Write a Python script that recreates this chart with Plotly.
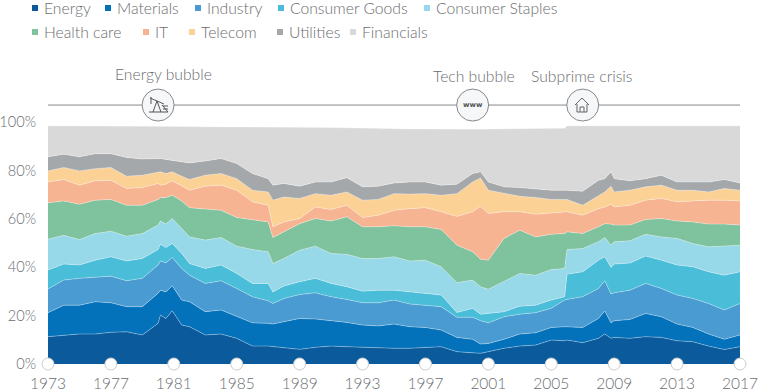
import plotly.graph_objects as go

W, H = 762, 392
L, R, T, B = 48, 740, 80, 364
PCT_PX = 2.42

years = [1973,1974,1975,1976,1977,1978,1979,1980,1980.15,1980.5,1980.9,1981.5,1982,1983,1984,1985,1986,1987,1987.3,1988,1989,1990,1991,1992,1993,1994,
         1995,1996,1997,1998,1999,2000,2000.5,2001,2002,2003,2004,2005,2005.85,2006,2007,2008,2008.4,2008.8,2009,2010,2011,2012,2013,2014,2015,2016,2017]

# Upper edge of each sector's band (cumulative % of the index)
energy_top = [11.3,12.0,12.4,12.4,13.1,13.3,12.0,16.8,20.2,18.8,22.0,16.1,15.4,12.0,12.4,10.6,7.4,7.4,7.2,6.5,6.05,6.9,7.4,7.15,6.9,6.5,
              6.5,6.5,6.9,7.15,5.1,4.8,4.4,5.1,6.5,7.4,7.8,9.9,9.6,9.9,8.8,10.6,12.4,10.6,11.0,10.6,11.3,11.0,9.6,9.2,7.4,6.0,7.15]
materials_top = [21.2,24.3,24.3,25.7,25.3,23.7,23.7,29.2,30.5,29.8,32.3,26.4,25.7,21.6,22.3,19.5,17.0,16.8,16.5,17.5,18.8,18.6,17.9,17.2,16.1,15.7,
                 16.5,15.4,15.1,14.0,11.0,10.2,8.25,8.5,10.2,12.4,12.9,15.1,15.4,15.4,15.1,18.8,21.9,17.0,17.9,18.4,20.9,19.5,16.5,15.1,12.4,10.2,12.0]
industry_top = [31.0,34.7,35.4,36.0,36.3,34.4,35.4,40.9,42.6,41.8,44.0,39.5,36.7,33.3,34.4,31.2,27.8,26.1,25.0,27.1,28.7,29.4,27.8,26.7,25.3,25.3,
                26.4,24.8,24.3,23.7,19.3,19.3,17.9,17.0,19.5,20.6,21.2,23.0,26.4,26.7,27.8,31.2,34.4,28.9,29.4,30.5,33.3,31.2,28.5,27.1,25.0,22.3,25.0]
consumer_goods_top = [38.8,41.3,40.9,42.9,44.3,42.6,43.6,47.3,49.5,48.1,49.8,45.7,41.5,39.5,40.9,37.4,33.3,33.3,29.8,32.2,34.0,35.4,33.3,31.9,30.1,30.5,
                      30.5,29.8,29.4,28.5,21.3,23.0,20.6,20.9,21.6,23.9,24.3,26.4,27.8,37.1,38.1,42.9,44.3,39.9,41.3,41.7,44.6,42.9,40.9,40.2,38.1,36.7,38.1]
consumer_staples_top = [51.6,53.2,51.4,53.9,54.9,52.8,53.9,57.4,59.1,57.8,60.1,56.0,52.5,51.2,52.3,48.7,47.3,46.4,41.5,43.6,47.0,48.7,45.7,45.3,43.6,43.6,
                        44.3,42.6,42.9,40.2,33.6,34.7,31.9,30.9,34.0,37.4,36.7,39.0,39.5,47.3,47.7,50.5,52.3,49.1,50.5,50.9,53.6,52.5,51.9,49.8,48.4,48.7,49.1]
health_care_top = [66.6,67.4,66.0,67.7,68.0,65.6,65.6,68.0,68.7,68.8,69.7,67.4,64.6,64.2,63.5,60.5,59.7,58.7,52.3,54.6,58.0,60.1,59.1,60.8,56.7,56.7,
                   57.1,56.7,56.7,55.6,49.1,46.4,43.3,42.9,51.9,55.3,52.5,53.6,53.9,54.6,53.9,56.7,58.0,57.8,57.4,57.4,59.7,60.1,59.1,58.7,57.8,57.8,57.4]
it_top = [75.2,76.2,73.9,75.7,75.9,72.5,72.9,74.6,73.9,74.3,75.7,73.5,71.8,73.5,73.9,71.8,67.0,65.6,56.7,58.7,60.1,64.9,63.8,65.6,60.5,61.5,
          63.5,64.2,64.6,62.9,61.0,62.9,65.2,62.2,62.9,62.9,61.9,62.4,62.7,62.9,61.5,64.2,64.9,66.0,64.9,65.6,67.7,68.4,67.0,67.4,67.7,67.7,67.4]
telecom_top = [79.8,81.2,79.8,80.7,81.2,77.6,78.0,79.0,79.4,78.7,79.4,77.6,76.2,78.0,78.7,76.6,71.8,71.1,67.7,69.0,68.4,70.4,69.7,71.1,67.7,68.0,
               70.4,70.2,70.4,69.7,70.4,75.2,76.9,71.8,70.7,69.3,68.8,68.0,68.0,68.0,65.6,69.3,71.1,73.5,71.1,71.8,73.2,73.9,71.8,71.8,71.1,72.5,71.8]
utilities_top = [85.6,86.7,85.6,86.9,86.9,85.3,84.7,84.9,84.9,84.5,84.2,83.5,83.1,83.9,84.9,82.8,78.7,76.6,73.9,74.6,73.5,75.2,75.2,77.0,73.2,73.5,
                 74.8,75.2,75.2,73.9,74.3,78.7,79.4,75.2,73.2,72.9,72.5,71.8,71.8,71.8,71.4,75.9,76.6,79.4,76.6,75.7,76.6,78.0,75.2,75.2,75.2,76.2,74.8]
financials_top = [98.2,98.2,98.2,98.1,98.1,98.0,98.0,98.0,98.0,98.0,98.0,97.9,97.9,97.8,97.8,97.8,97.7,97.8,97.8,97.8,97.7,97.6,97.5,97.4,97.2,97.0,
                  97.0,96.9,96.9,96.8,96.7,96.8,96.8,96.9,96.9,97.0,97.0,97.1,97.2,98.2,98.2,98.2,98.2,98.2,98.2,98.2,98.2,98.2,98.2,98.2,98.2,98.2,98.2]

sectors = ["Energy","Materials","Industry","Consumer Goods","Consumer Staples","Health care","IT","Telecom","Utilities","Financials"]
colors = ["#0b5a9b","#0471bb","#4a9bd1","#4abdd8","#97d8e9","#7ec29e","#f6b493","#fbd196","#a5a8ab","#d9d9d9"]
tops = [energy_top,materials_top,industry_top,consumer_goods_top,consumer_staples_top,health_care_top,it_top,telecom_top,utilities_top,financials_top]
tick_years = list(range(1973, 2018, 4))
y_ticks = [0,20,40,60,80,100]
event_years = [1980, 2000, 2007]
event_names = ["Energy bubble","Tech bubble","Subprime crisis"]
EVENT_LEVEL = 107

FONT = "Lato"
TXT = "#6a6d70"

def px(x): return (x - L) / (R - L)
def py(y): return (B - y) / (B - T)

fig = go.Figure()
for i, (name, col, top) in enumerate(zip(sectors, colors, tops)):
    fig.add_trace(go.Scatter(x=years, y=top, name=name, mode="lines",
        line=dict(color="rgba(255,255,255,0.45)" if i < 9 else col, width=0.7),
        fillcolor=col, fill="tozeroy" if i == 0 else "tonexty", showlegend=False, hoverinfo="name+x+y"))

fig.add_trace(go.Scatter(x=tick_years, y=[0]*len(tick_years), mode="markers", cliponaxis=False, showlegend=False,
    marker=dict(size=12, color="white", line=dict(color="#c9cccf", width=1)), hoverinfo="skip"))
fig.add_trace(go.Scatter(x=[1973, 2017], y=[EVENT_LEVEL]*2, mode="lines", cliponaxis=False, showlegend=False,
    line=dict(color="#85888b", width=1), hoverinfo="skip"))
fig.add_trace(go.Scatter(x=event_years, y=[EVENT_LEVEL]*3, mode="markers", cliponaxis=False, showlegend=False,
    marker=dict(size=32, color="#f6f7f8", line=dict(color="#85888b", width=1)), hoverinfo="skip"))

ann = []
legend_pos = [(35,8),(108,8),(198,8),(281,8),(427,8),(35,32),(146,32),(192,32),(280,32),(353,32)]
shapes = []
for (lx, ly), name, col in zip(legend_pos, sectors, colors):
    shapes.append(dict(type="rect", xref="paper", yref="paper", x0=px(lx-3), x1=px(lx+3), y0=py(ly+3), y1=py(ly-3), fillcolor=col, line_width=0))
    ann.append(dict(text=name, xref="paper", yref="paper", x=px(lx+7), y=py(ly), xanchor="left", yanchor="middle",
                    showarrow=False, font=dict(family=FONT, size=15.7, color=TXT, weight=300)))
for name, xc, yc in zip(event_names, [163,474,582], [74,76,76]):
    ann.append(dict(text=name, xref="paper", yref="paper", x=px(xc), y=py(yc), xanchor="center", yanchor="middle",
                    showarrow=False, font=dict(family=FONT, size=15.7, color=TXT, weight=300)))
ann.append(dict(text="<b>www</b>", xref="paper", yref="paper", x=px(473), y=py(105), xanchor="center", yanchor="middle",
                showarrow=False, font=dict(family="DejaVu Sans", size=7, color="#555")))

def path(points):
    return "M" + " L".join(f"{px(a):.5f},{py(b):.5f}" for a, b in points)

for p in [[(575,105),(582,98),(589,105)], [(577,104),(577,112),(587,112),(587,104)], [(580,112),(580,107),(584,107),(584,112)]]:
    shapes.append(dict(type="path", xref="paper", yref="paper", path=path(p), line=dict(color="#666", width=1)))
for p in [[(150,98),(164,104)], [(157,101),(153,112)], [(157,101),(161,112)], [(149,112),(168,112)], [(162,105),(168,112)],
          [(163,106),(168,106)], [(163,109),(168,109)], [(151,97),(151,104)]]:
    shapes.append(dict(type="path", xref="paper", yref="paper", path=path(p), line=dict(color="#555", width=1)))

x_font = dict(family=FONT, size=15.5, color=TXT, weight=300)
y_font = dict(family=FONT, size=14.6, color=TXT, weight=300)
fig.update_layout(
    width=W, height=H, paper_bgcolor="white", plot_bgcolor="white",
    margin=dict(l=L, r=W-R, t=T, b=H-B, pad=0), annotations=ann, shapes=shapes, showlegend=False,
    xaxis=dict(range=[1973, 2017], tickvals=tick_years, ticktext=[str(v) for v in tick_years], tickfont=x_font, automargin=False,
               showgrid=False, zeroline=False, showline=False, ticks="outside", ticklen=5, tickcolor="rgba(0,0,0,0)"),
    yaxis=dict(range=[0, (B - T) / PCT_PX], tickvals=y_ticks, ticktext=[f"{v}%" for v in y_ticks], tickfont=y_font, automargin=False,
               showgrid=False, zeroline=False, showline=False, ticks="outside", ticklen=8, tickcolor="rgba(0,0,0,0)"),
)
fig.write_html("out.html", config=dict(displayModeBar=False), post_script="document.body.style.margin='0';")
